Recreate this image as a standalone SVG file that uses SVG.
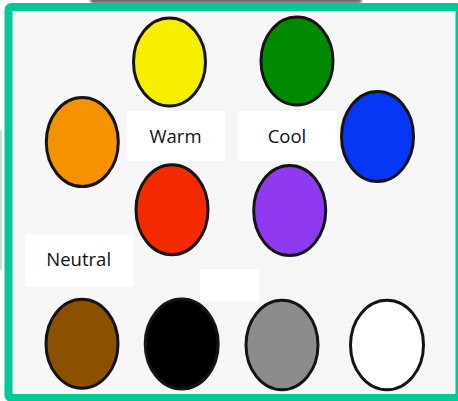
<svg xmlns="http://www.w3.org/2000/svg" width="458" height="401" viewBox="0 0 458 401">
  <defs>
    <filter id="blur" x="-10%" y="-200%" width="120%" height="500%">
      <feGaussianBlur stdDeviation="1"/>
    </filter>
  </defs>
  <style>
    .dot { stroke: #141414; stroke-width: 3; }
    .lbl { fill: #ffffff; }
    .txt { font-family: "Open Sans", "Liberation Sans", sans-serif; font-size: 18.5px; fill: #111111; text-anchor: middle; }
  </style>
  <rect x="0" y="0" width="458" height="401" fill="#ffffff"/>
  <rect x="90" y="-6" width="272" height="9.5" rx="4" fill="#6e6e6e" filter="url(#blur)"/>
  <rect x="0" y="130" width="2" height="140" fill="#d8d8d8"/>
  <rect id="frame" x="8.5" y="7" width="451" height="391" rx="3" fill="#f6f6f6" stroke="#00c896" stroke-width="8"/>

  <g id="label-warm">
    <rect class="lbl" x="127" y="111" width="98" height="50"/>
    <text class="txt" x="175.5" y="142.5">Warm</text>
  </g>
  <g id="label-cool">
    <rect class="lbl" x="238" y="111" width="99" height="50"/>
    <text class="txt" x="287" y="142.5">Cool</text>
  </g>
  <g id="label-neutral">
    <rect class="lbl" x="25" y="234" width="108" height="53"/>
    <text class="txt" x="78.7" y="266">Neutral</text>
  </g>
  <g id="label-blank">
    <rect class="lbl" x="200" y="269" width="59" height="33"/>
  </g>

  <g id="yellow"><ellipse class="dot" cx="169.5" cy="62" rx="36" ry="44" fill="#f6f000"/></g>
  <g id="green"><ellipse class="dot" cx="297" cy="61" rx="36" ry="44" fill="#008a00"/></g>
  <g id="orange"><ellipse class="dot" cx="82.3" cy="142" rx="36" ry="44.5" fill="#f59200"/></g>
  <g id="blue"><ellipse class="dot" cx="377.5" cy="136.5" rx="36" ry="45" fill="#0537f5"/></g>
  <g id="red"><ellipse class="dot" cx="172" cy="209.7" rx="36" ry="45" fill="#f52900"/></g>
  <g id="purple"><ellipse class="dot" cx="289.7" cy="210.5" rx="36" ry="45" fill="#8f3af0"/></g>
  <g id="brown"><ellipse class="dot" cx="82" cy="343.7" rx="36" ry="44.5" fill="#8b5000"/></g>
  <g id="black"><ellipse class="dot" cx="181.7" cy="344" rx="36.5" ry="45" fill="#000000"/></g>
  <g id="gray"><ellipse class="dot" cx="282" cy="345" rx="36" ry="44.7" fill="#8c8c8c"/></g>
  <g id="white"><ellipse class="dot" cx="387" cy="345" rx="36.5" ry="44.7" fill="#ffffff"/></g>
  <g id="connectors"/>
</svg>
